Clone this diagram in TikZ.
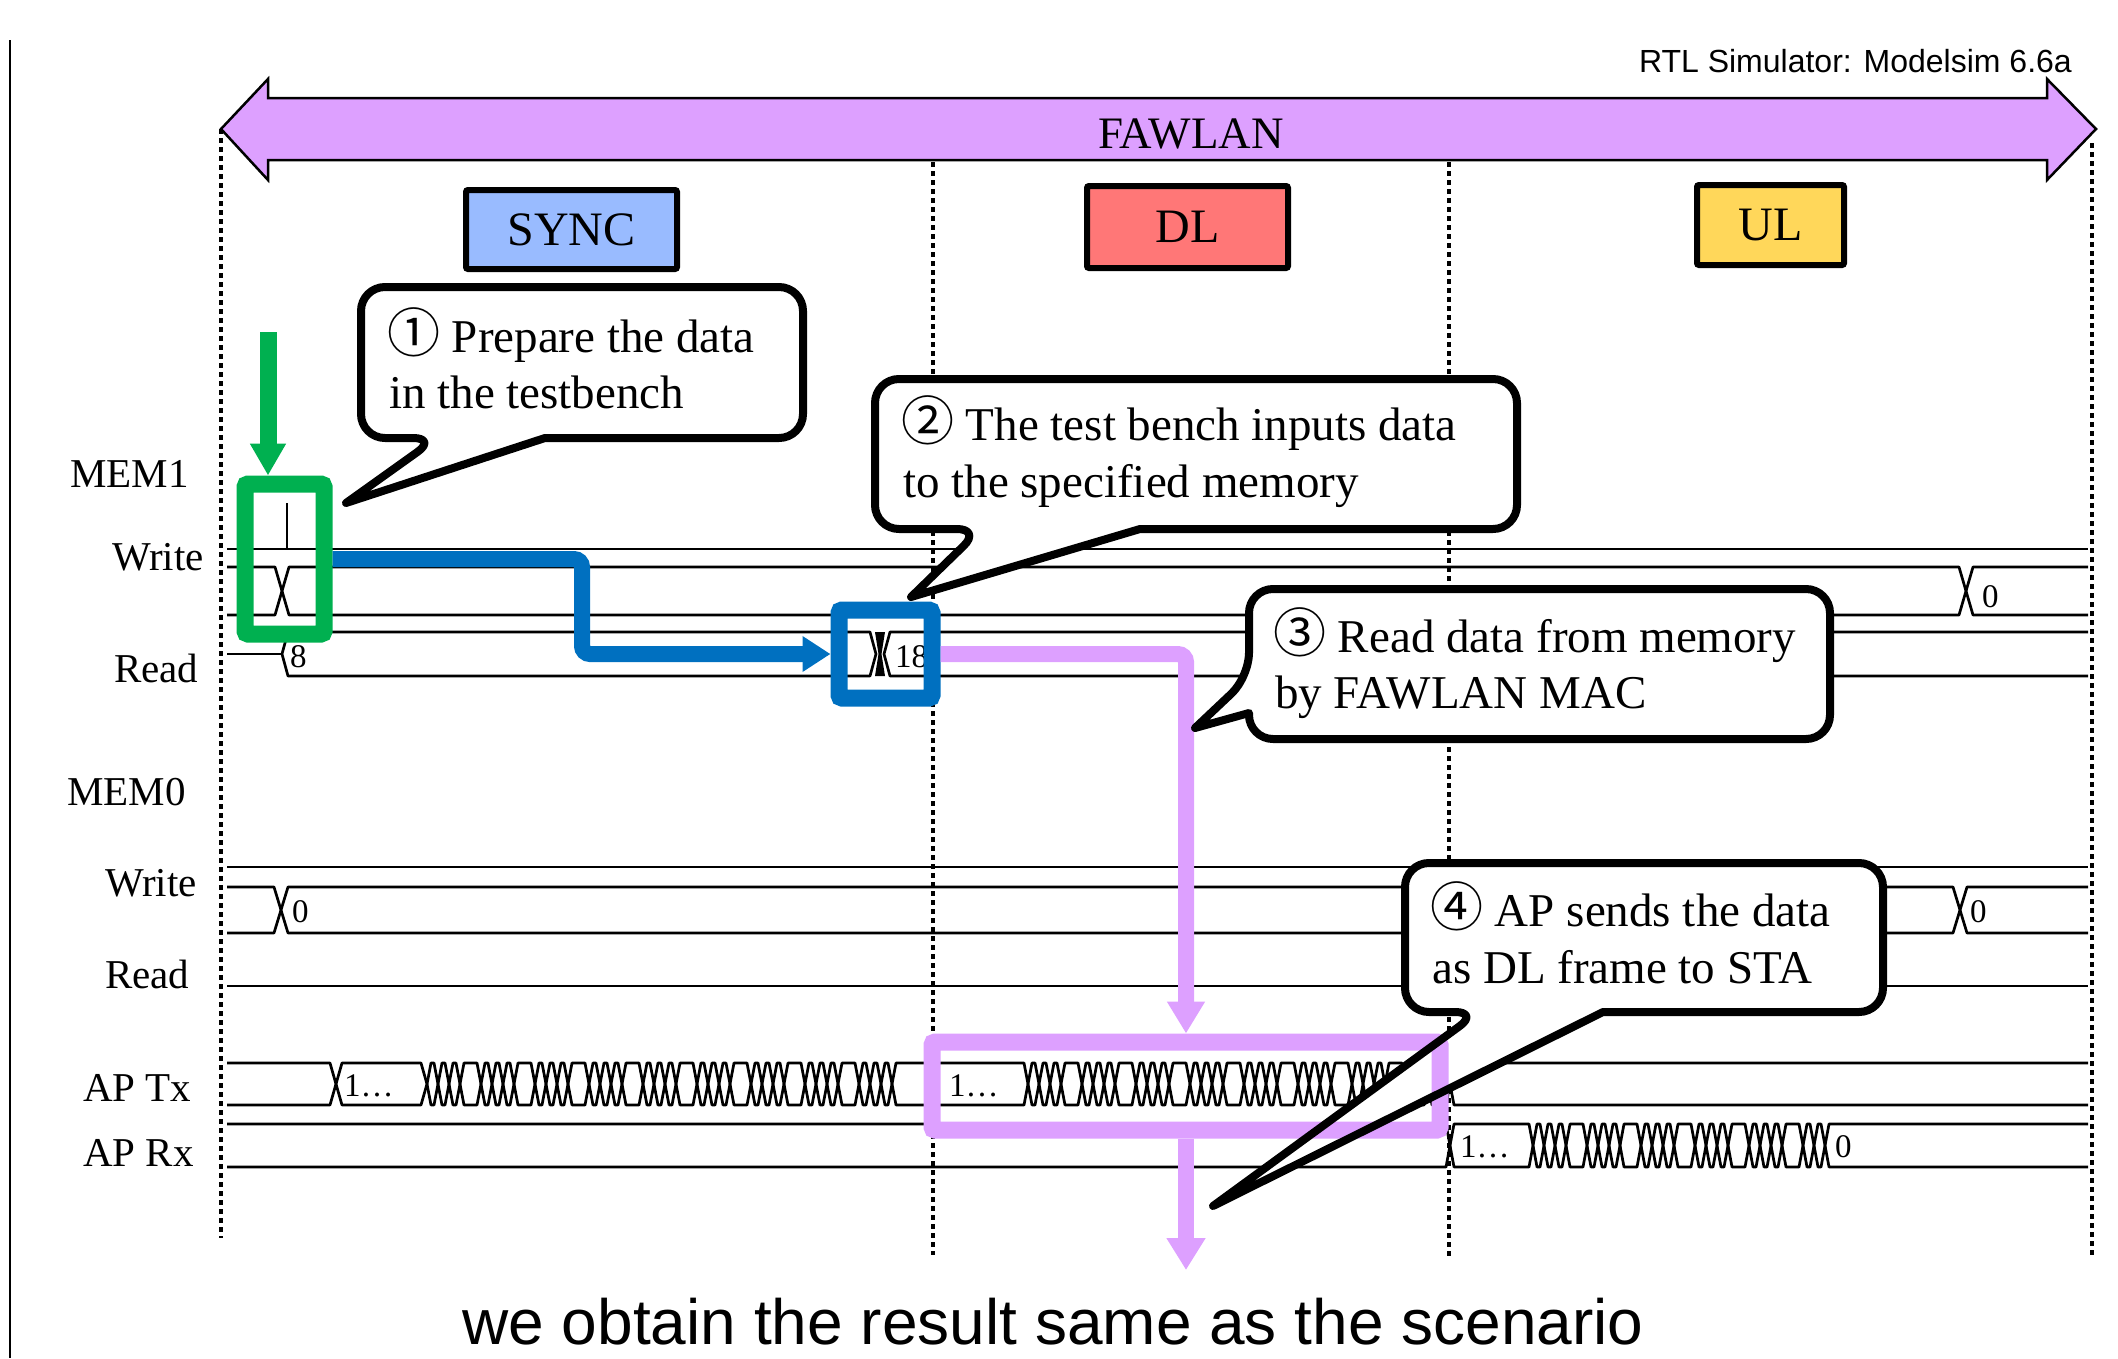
\documentclass[tikz,border=0pt]{standalone}
\usepackage{fontspec}
\setmainfont{Liberation Serif}
\setsansfont{Liberation Sans}
\newfontfamily\circfont{Noto Sans CJK JP}
\usetikzlibrary{arrows.meta}

\definecolor{fawlanpurple}{RGB}{221,160,255}
\definecolor{syncblue}{RGB}{153,187,255}
\definecolor{dlred}{RGB}{255,119,119}
\definecolor{ulyellow}{RGB}{255,215,90}
\definecolor{hlgreen}{RGB}{0,176,80}
\definecolor{hlblue}{RGB}{0,112,192}

% circled step number, a little larger than the text around it
\newcommand\stepnum[1]{{\circfont\fontsize{53}{56}\selectfont #1}}

% half width of a bus transition
\def\wvh{5}
% bus slot with a transition at both ends: ytop, ybot, x from, x to
\newcommand\wseg[4]{%
  \draw[wave] ({#3+\wvh},#1) -- ({#4-\wvh},#1) -- (#4,{(#1+#2)/2}) -- ({#4-\wvh},#2)
    -- ({#3+\wvh},#2) -- (#3,{(#1+#2)/2}) -- cycle;}
% first slot of a bus (open on the left)
\newcommand\wsegL[4]{%
  \draw[wave] (#3,#1) -- ({#4-\wvh},#1) -- (#4,{(#1+#2)/2}) -- ({#4-\wvh},#2) -- (#3,#2);}
% last slot of a bus (open on the right)
\newcommand\wsegR[4]{%
  \draw[wave] (#4,#1) -- ({#3+\wvh},#1) -- (#3,{(#1+#2)/2}) -- ({#3+\wvh},#2) -- (#4,#2);}
% bursts of data: three short slots and one long slot, every 54pt
\newcommand\wburst[4]{%
  \foreach \k in {1,...,#4}{%
    \pgfmathsetmacro\g{#3+54*(\k-1)}%
    \wseg{#1}{#2}{\g}{\g+11}\wseg{#1}{#2}{\g+11}{\g+22}%
    \wseg{#1}{#2}{\g+22}{\g+33}\wseg{#1}{#2}{\g+33}{\g+54}}}
% a closing burst that ends at a given x
\newcommand\wburstend[4]{%
  \wseg{#1}{#2}{#3}{#3+11}\wseg{#1}{#2}{#3+11}{#3+22}%
  \wseg{#1}{#2}{#3+22}{#3+33}\wseg{#1}{#2}{#3+33}{#4}}

\begin{document}
\begin{tikzpicture}[x=1pt,y=-1pt,
  wave/.style={line width=2.7pt, line join=round},
  phaseline/.style={line width=4.5pt, dash pattern=on 5pt off 4pt},
  callout/.style={draw, fill=white, line width=8pt, line join=round},
  callouttext/.style={font=\fontsize{47}{56}\selectfont, anchor=base west, inner sep=0pt},
  siglabel/.style={font=\fontsize{41}{48}\selectfont, anchor=base west, inner sep=0pt},
  vallabel/.style={font=\fontsize{33}{40}\selectfont, anchor=base west, inner sep=0pt},
  phase/.style={draw, line width=6pt, rounded corners=2pt, inner sep=0pt,
    font=\fontsize{48}{56}\selectfont},
  hlbox/.style={line width=17pt, rounded corners=3pt, inner sep=0pt}]
\useasboundingbox (0,0) rectangle (2118,1358);

% page rule on the left
\draw[line width=2pt] (9.5,40) -- (9.5,1358);

% phase boundaries
\draw[phaseline] (221,129) -- (221,1238);
\draw[phaseline] (933,162) -- (933,1255);
\draw[phaseline] (1449,162) -- (1449,1257);
\draw[phaseline] (2092,143) -- (2092,1255);

% ---- MEM1 ----
\draw[wave] (227,549) -- (2088,549);
\draw[wave] (287,549) -- (287,503);
\def\wvh{7}
\wsegL{567}{615}{227}{282}
\wseg{567}{615}{282}{1966}
\wsegR{567}{615}{1966}{2088}
\def\wvh{6}
\draw[wave] (227,654) -- (282,654);
\wseg{632}{676}{282}{876}
\fill (875,632) -- (885,632) -- (881.5,654) -- (885,676) -- (875,676) -- (878.5,654) -- cycle;
\wsegR{632}{676}{884}{2088}

% ---- MEM0 ----
\draw[wave] (227,867) -- (2088,867);
\def\wvh{7}
\wsegL{887}{933}{227}{281}
\wseg{887}{933}{281}{1960}
\wsegR{887}{933}{1960}{2088}
\draw[wave] (227,986) -- (2088,986);

% ---- AP Tx ----
\def\wvh{6}
\wsegL{1063}{1105}{227}{336}
\wseg{1063}{1105}{336}{427}
\def\wvh{4}
\wburst{1063}{1105}{427}{8}
\wburstend{1063}{1105}{859}{933}
\wseg{1063}{1105}{933}{1028}
\wburst{1063}{1105}{1028}{7}
\wburstend{1063}{1105}{1406}{1450}
\wsegR{1063}{1105}{1450}{2088}

% ---- AP Rx ----
\wsegL{1124}{1167}{227}{1450}
\wseg{1124}{1167}{1450}{1533}
\wburst{1124}{1167}{1533}{5}
\wseg{1124}{1167}{1803}{1814}
\wseg{1124}{1167}{1814}{1825}
\wsegR{1124}{1167}{1825}{2088}

% bus values
\node[vallabel] (v8) at (290,667) {8};
\node[vallabel] (v18) at (895,667) {18};
\node[vallabel] (vwr1) at (1982,607) {0};
\node[vallabel] (vwr0a) at (292,922) {0};
\node[vallabel] (vwr0b) at (1970,922) {0};
\node[vallabel] (vtx1) at (344,1096) {1…};
\node[vallabel] (vtx2) at (949,1096) {1…};
\node[vallabel] (vrx1) at (1460,1157) {1…};
\node[vallabel] (vrx0) at (1835,1157) {0};

% signal names
\node[siglabel] (lmem1) at (70,487) {MEM1};
\node[siglabel] (lw1) at (112,570) {Write};
\node[siglabel] (lr1) at (114,682) {Read};
\node[siglabel] (lmem0) at (67,805) {MEM0};
\node[siglabel] (lw0) at (105,896) {Write};
\node[siglabel] (lr0) at (105,988) {Read};
\node[siglabel] (ltx) at (83,1101) {AP Tx};
\node[siglabel] (lrx) at (83,1166) {AP Rx};

% background of callout 4 (its outline is drawn on top later)
\fill[white] (1479,1012) -- (1213,1206) -- (1603,1012) [rounded corners=24pt] -- (1883,1012)
  -- (1883,863) -- (1405,863) -- (1405,1012) -- cycle;

% highlighted regions
\node[hlbox, draw=hlgreen, minimum width=79pt, minimum height=150pt] (gbox) at (284.5,559) {};
\node[hlbox, draw=hlblue, minimum width=93pt, minimum height=88pt] (bbox) at (885.5,654) {};
\node[hlbox, draw=fawlanpurple, minimum width=508pt, minimum height=88pt] (pbox) at (1186,1086) {};

\coordinate (gstart) at (268,332);
\coordinate (resultpt) at (1186,1270);
\draw[line width=17pt, hlgreen, -{Triangle[width=34pt,length=32pt]}] (gstart) -- (gstart |- gbox.north);
\draw[line width=16pt, hlblue, rounded corners=8pt, -{Triangle[width=34pt,length=28pt]}]
  (gbox.east) -- ++(249.5,0) |- (bbox.west);
\draw[line width=16pt, fawlanpurple, rounded corners=8pt, -{Triangle[width=36pt,length=32pt]}]
  (bbox.east) -| (pbox.north);
\draw[line width=16pt, fawlanpurple, -{Triangle[width=37pt,length=32pt]}] (pbox.south) -- (resultpt);

% callouts
\draw[callout] (437,438) -- (346,503) -- (545,438) [rounded corners=24pt] -- (803,438)
  -- (803,287) -- (361,287) -- (361,438) -- cycle;
\draw[callout] (981,529) -- (911,597) -- (1140,529) [rounded corners=24pt] -- (1517,529)
  -- (1517,379) -- (875,379) -- (875,529) -- cycle;
\draw[callout] (1249,677) -- (1195,728) -- (1249,713) [rounded corners=24pt] -- (1249,739)
  -- (1830,739) -- (1830,589) -- (1249,589) -- cycle;
\draw[line width=8pt, line join=round] (1479,1012) -- (1213,1206) -- (1603,1012)
  [rounded corners=24pt] -- (1883,1012) -- (1883,863) -- (1405,863) -- (1405,1012) -- cycle;

\node[callouttext] (c1a) at (387,352) {\stepnum{①} Prepare the data};
\node[callouttext] (c1b) at (389,408) {in the testbench};
\node[callouttext] (c2a) at (901,440) {\stepnum{②} The test bench inputs data};
\node[callouttext] (c2b) at (903,497) {to the specified memory};
\node[callouttext] (c3a) at (1273,652) {\stepnum{③} Read data from memory};
\node[callouttext] (c3b) at (1275,708) {by FAWLAN MAC};
\node[callouttext] (c4a) at (1430,926) {\stepnum{④} AP sends the data};
\node[callouttext] (c4b) at (1432,983) {as DL frame to STA};

% FAWLAN span
\draw[line width=2.5pt, fill=fawlanpurple] (221,129) -- (268,79) -- (268,98) -- (2047,98)
  -- (2047,79) -- (2096,129) -- (2047,180) -- (2047,160) -- (268,160) -- (268,180) -- cycle;
\node[font=\fontsize{45}{52}\selectfont, anchor=base, inner sep=0pt] (fawlan) at (1191,148) {FAWLAN};

% phases
\node[phase, fill=syncblue, minimum width=211pt, minimum height=79pt] (sync) at (571.5,229.5) {SYNC};
\node[phase, fill=dlred, minimum width=201pt, minimum height=82pt] (dl) at (1187.5,227) {DL};
\node[phase, fill=ulyellow, minimum width=147pt, minimum height=80pt] (ul) at (1770.5,225) {UL};

% captions
\node[font=\sffamily\fontsize{32}{38}\selectfont, anchor=base east, inner sep=0pt] (rtl)
  at (2072,72) {RTL Simulator: Modelsim 6.6a};
\node[font=\sffamily\fontsize{64}{76}\selectfont, anchor=base, inner sep=0pt] (result)
  at (1053,1344) {we obtain the result same as the scenario};
\end{tikzpicture}
\end{document}
